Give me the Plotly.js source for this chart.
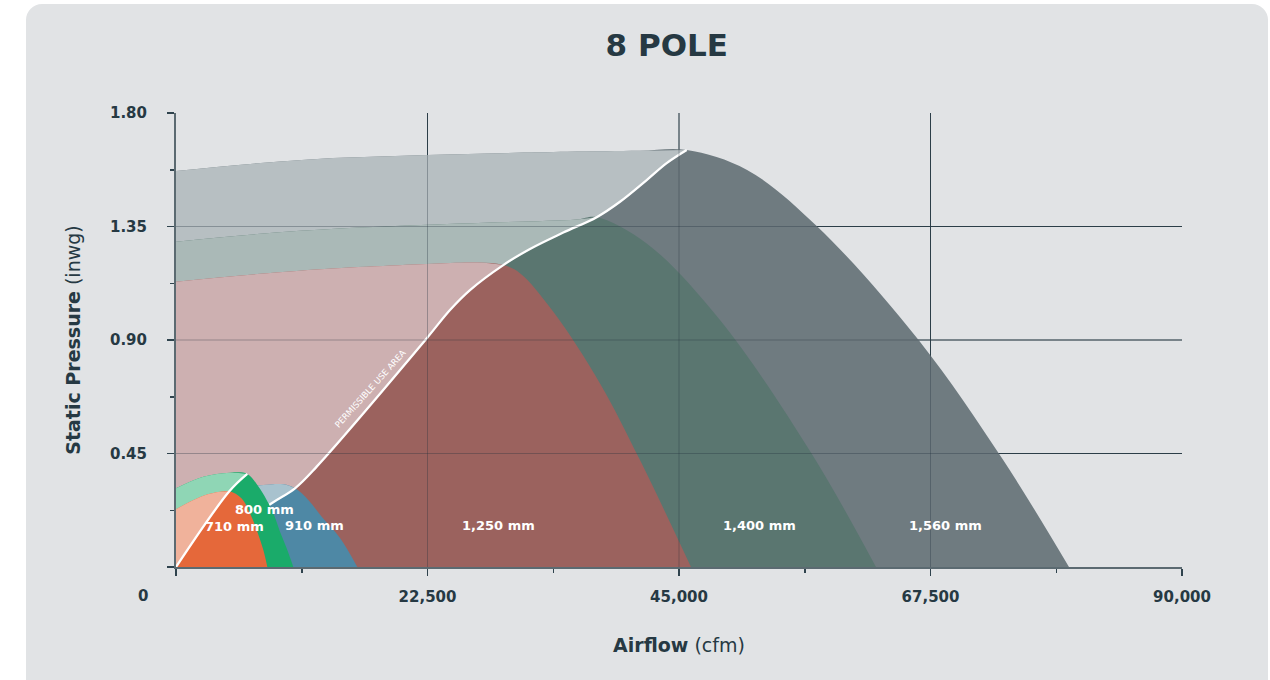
<!DOCTYPE html>
<html>
<head>
<meta charset="utf-8">
<script src="https://cdn.plot.ly/plotly-3.0.1.min.js"></script>
<style>
  html, body { margin: 0; padding: 0; background: #ffffff; width: 1270px; height: 680px; overflow: hidden; }
  #card { position: absolute; left: 26px; top: 4px; width: 1242px; height: 720px; background: #e1e3e5; border-radius: 16px; }
  #plot { position: absolute; left: 0; top: 0; width: 1270px; height: 680px; }
</style>
</head>
<body>
<div id="card"></div>
<div id="plot"></div>
<script>
// ---- axis ticks ----
const xTicks = [0, 22500, 45000, 67500, 90000];
const xTickText = ['', '22,500', '45,000', '67,500', '90,000'];
const xMinorTicks = [11250, 33750, 56250, 78750];
const yTicks = [0, 0.45, 0.9, 1.35, 1.8];
const yTickText = ['', '0.45', '0.90', '1.35', '1.80'];
const yMinorTicks = [0.225, 0.675, 1.125, 1.575];

// ---- permissible use lines (airflow cfm, static pressure inwg) ----
const permissibleX = [0, 8562, 10646, 12587, 22365, 24512, 26301, 29281, 31670, 34649, 37637, 39721, 42110, 43899, 45688];
const permissibleY = [0, 0.253, 0.312, 0.398, 0.903, 1.019, 1.098, 1.197, 1.261, 1.326, 1.387, 1.448, 1.534, 1.601, 1.653];
const permissibleSmallX = [0, 4772, 6379];
const permissibleSmallY = [0, 0.300, 0.369];

// ---- fan curves ----
const sizeNames = ['1,560 mm', '1,400 mm', '1,250 mm', '910 mm', '800 mm', '710 mm'];

const fan1560X = [0, 11250, 22500, 35000, 41500, 45688, 51092, 57390, 66434, 74003, 79890];
const fan1560Y = [1.570, 1.614, 1.633, 1.646, 1.650, 1.653, 1.574, 1.349, 0.900, 0.424, 0];
const fan1560Meet = 5;

const fan1400X = [0, 11093, 25408, 35847, 37637, 42110, 48667, 56845, 62623];
const fan1400Y = [1.290, 1.333, 1.362, 1.378, 1.387, 1.283, 0.979, 0.451, 0];
const fan1400Meet = 4;

const fan1250X = [0, 11093, 22427, 27000, 29281, 30775, 33754, 37932, 41510, 46073];
const fan1250Y = [1.131, 1.175, 1.201, 1.207, 1.197, 1.165, 1.012, 0.728, 0.424, 0];
const fan1250Meet = 4;

const fan910X = [0, 4000, 7810, 9600, 10646, 11836, 13034, 14672, 16220];
const fan910Y = [0.285, 0.305, 0.325, 0.328, 0.312, 0.266, 0.199, 0.115, 0];
const fan910Meet = 4;

const fan800X = [0, 2442, 4830, 6379, 7276, 8110, 8707, 9304, 9900, 10497];
const fan800Y = [0.312, 0.358, 0.374, 0.369, 0.325, 0.266, 0.213, 0.140, 0.074, 0];
const fan800Meet = 3;

const fan710X = [0, 2440, 3940, 4772, 5875, 6620, 7276, 7813, 8170];
const fan710Y = [0.229, 0.282, 0.298, 0.300, 0.272, 0.213, 0.140, 0.067, 0];
const fan710Meet = 3;

// label anchor points (cfm, inwg)
const labelX = [68886, 52246, 28896, 12346, 7888, 5190];
const labelY = [0.1665, 0.1665, 0.1665, 0.1665, 0.229, 0.160];

// ---- styles ----
const FONT = 'DejaVu Sans, Verdana, sans-serif';
const INK = '#263943';
const fans = [
  {x: fan1560X, y: fan1560Y, meet: fan1560Meet, wx: permissibleX, wy: permissibleY, dark: '#6f7b80', light: '#b7bfc2'},
  {x: fan1400X, y: fan1400Y, meet: fan1400Meet, wx: permissibleX, wy: permissibleY, dark: '#5a7670', light: '#aab9b7'},
  {x: fan1250X, y: fan1250Y, meet: fan1250Meet, wx: permissibleX, wy: permissibleY, dark: '#9b625e', light: '#cdb0b1'},
  {x: fan910X,  y: fan910Y,  meet: fan910Meet,  wx: permissibleX, wy: permissibleY, dark: '#4e88a5', light: '#a8c2ce'},
  {x: fan800X,  y: fan800Y,  meet: fan800Meet,  wx: permissibleSmallX, wy: permissibleSmallY, dark: '#1aab6a', light: '#8fd6b5'},
  {x: fan710X,  y: fan710Y,  meet: fan710Meet,  wx: permissibleSmallX, wy: permissibleSmallY, dark: '#e5683a', light: '#f0b29b'}
];

function whiteLine(xs, ys) {
  return {
    type: 'scatter', mode: 'lines', x: xs, y: ys,
    line: {width: 2.3, shape: 'spline', smoothing: 1, color: '#ffffff'},
    hoverinfo: 'skip', showlegend: false
  };
}

const traces = [];
fans.forEach((f, i) => {
  const meetX = f.x[f.meet];
  // full curve, dark
  traces.push({
    type: 'scatter', mode: 'lines', x: f.x, y: f.y, fill: 'tozeroy',
    fillcolor: f.dark, line: {width: 0, shape: 'spline', smoothing: 1, color: f.dark},
    hoverinfo: 'skip', showlegend: false, name: sizeNames[i]
  });
  // curve up to the permissible line (invisible boundary)
  traces.push({
    type: 'scatter', mode: 'lines', x: f.x.slice(0, f.meet + 1), y: f.y.slice(0, f.meet + 1),
    line: {width: 0, shape: 'spline', smoothing: 1, color: 'rgba(0,0,0,0)'},
    hoverinfo: 'skip', showlegend: false
  });
  // light area between the curve and the permissible line
  // (one extra line point past the meeting point keeps the spline identical to the white line)
  let last = f.wx.findIndex(v => v >= meetX);
  if (last < f.wx.length - 1) last += 1;
  traces.push({
    type: 'scatter', mode: 'lines', x: f.wx.slice(0, last + 1), y: f.wy.slice(0, last + 1), fill: 'tonexty',
    fillcolor: f.light, line: {width: 0, shape: 'spline', smoothing: 1, color: 'rgba(0,0,0,0)'},
    hoverinfo: 'skip', showlegend: false
  });
  if (i === 3) traces.push(whiteLine(permissibleX, permissibleY));
});
traces.push(whiteLine(permissibleSmallX, permissibleSmallY));

// gridlines: a solid one under the areas and a translucent one above
const shapes = [];
xTicks.slice(1, -1).forEach(v => {
  shapes.push({type: 'line', xref: 'x', yref: 'paper', x0: v, x1: v, y0: 0, y1: 1, layer: 'below', line: {color: '#33464f', width: 1}});
  shapes.push({type: 'line', xref: 'x', yref: 'paper', x0: v, x1: v, y0: 0, y1: 1, layer: 'above', line: {color: 'rgba(30,48,58,0.32)', width: 1}});
});
yTicks.slice(1, -1).forEach(v => {
  shapes.push({type: 'line', xref: 'paper', yref: 'y', x0: 0, x1: 1, y0: v, y1: v, layer: 'below', line: {color: '#33464f', width: 1}});
  shapes.push({type: 'line', xref: 'paper', yref: 'y', x0: 0, x1: 1, y0: v, y1: v, layer: 'above', line: {color: 'rgba(30,48,58,0.32)', width: 1}});
});

const annotations = sizeNames.map((t, i) => ({
  x: labelX[i], y: labelY[i], xref: 'x', yref: 'y', text: '<b>' + t + '</b>', showarrow: false,
  font: {family: FONT, size: 13, color: '#ffffff'}
}));
annotations.push({
  x: 17356, y: 0.706, xref: 'x', yref: 'y', text: 'PERMISSIBLE USE AREA', showarrow: false,
  textangle: -48, font: {family: FONT, size: 8.5, color: '#ffffff'}
});
annotations.push({
  x: 0, y: 0, xref: 'x', yref: 'y', text: '<b>0</b>', showarrow: false, xshift: -33, yshift: -29,
  font: {family: FONT, size: 15, color: INK}
});

const axisCommon = {
  showline: true, linecolor: '#5b6a71', linewidth: 2, ticks: 'outside', ticklen: 7, tickwidth: 1.5,
  tickcolor: '#2f434d', tickmode: 'array', showgrid: false, zeroline: false, fixedrange: true,
  tickfont: {family: FONT, size: 15, color: INK, weight: 'bold'}
};

const layout = {
  width: 1270, height: 680,
  paper_bgcolor: 'rgba(0,0,0,0)', plot_bgcolor: 'rgba(0,0,0,0)',
  margin: {l: 176, r: 88, t: 113, b: 113},
  title: {text: '<b>8 POLE</b>', x: 0.525, xanchor: 'center', y: 1 - 45 / 680, yanchor: 'middle', yref: 'container',
          font: {family: FONT, size: 31, color: INK}},
  xaxis: Object.assign({}, axisCommon, {
    range: [0, 90000], tickvals: xTicks, ticktext: xTickText, ticklabelstandoff: 8,
    minor: {tickmode: 'array', tickvals: xMinorTicks, ticklen: 4, tickwidth: 1.5, tickcolor: '#2f434d', showgrid: false},
    title: {text: '<b>Airflow</b> (cfm)', standoff: 34, font: {family: FONT, size: 19, color: INK}}
  }),
  yaxis: Object.assign({}, axisCommon, {
    range: [0, 1.8], tickvals: yTicks, ticktext: yTickText, ticklabelstandoff: 17,
    minor: {tickmode: 'array', tickvals: yMinorTicks, ticklen: 4, tickwidth: 1.5, tickcolor: '#2f434d', showgrid: false},
    title: {text: '<b>Static Pressure</b> (inwg)', standoff: 24, font: {family: FONT, size: 19, color: INK}}
  }),
  shapes: shapes,
  annotations: annotations,
  showlegend: false
};

Plotly.newPlot('plot', traces, layout, {displayModeBar: false, staticPlot: true});
</script>
</body>
</html>
